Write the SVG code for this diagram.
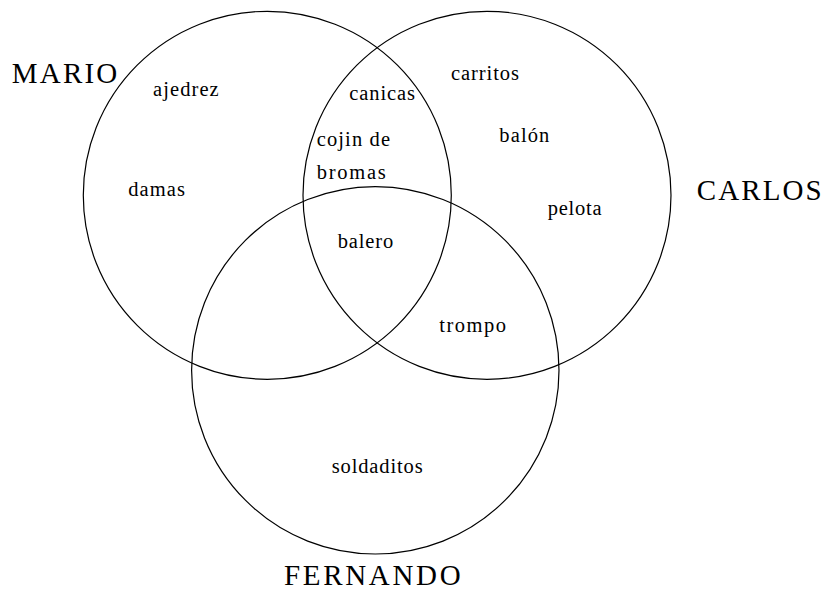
<svg xmlns="http://www.w3.org/2000/svg" width="829" height="591" viewBox="0 0 829 591">
<style>
circle{fill:none;stroke:#000;stroke-width:1.2}
text{font-family:"Liberation Serif","Times New Roman",serif;fill:#000}
.s{font-size:20.5px}
.b{font-size:29px}
</style>
<rect width="829" height="591" fill="#fff"/>
<g id="mario"><circle cx="267.3" cy="195.3" r="184"/><text class="b" x="11.7" y="83.3" textLength="105.6" lengthAdjust="spacing">MARIO</text></g>
<g id="carlos"><circle cx="487" cy="195.3" r="184"/><text class="b" x="696.7" y="200" textLength="125" lengthAdjust="spacing">CARLOS</text></g>
<g id="fernando"><circle cx="375.3" cy="370.3" r="183.7"/><text class="b" x="284" y="585" textLength="176.7" lengthAdjust="spacing">FERNANDO</text></g>
<g id="labels">
<text class="s" x="153" y="96" textLength="65.7" lengthAdjust="spacing">ajedrez</text>
<text class="s" x="128.3" y="195.7" textLength="56.7" lengthAdjust="spacing">damas</text>
<text class="s" x="349.3" y="100" textLength="65.7" lengthAdjust="spacing">canicas</text>
<text class="s" x="316.7" y="145.7" textLength="73.3" lengthAdjust="spacing">cojin de</text>
<text class="s" x="316.7" y="179" textLength="69" lengthAdjust="spacing">bromas</text>
<text class="s" x="337.7" y="248.3" textLength="55.6" lengthAdjust="spacing">balero</text>
<text class="s" x="451" y="80" textLength="68" lengthAdjust="spacing">carritos</text>
<text class="s" x="499.3" y="141.7" textLength="50" lengthAdjust="spacing">balón</text>
<text class="s" x="547.7" y="215" textLength="54" lengthAdjust="spacing">pelota</text>
<text class="s" x="439.3" y="331.7" textLength="66.7" lengthAdjust="spacing">trompo</text>
<text class="s" x="331.7" y="473.3" textLength="91" lengthAdjust="spacing">soldaditos</text>
</g>
</svg>
